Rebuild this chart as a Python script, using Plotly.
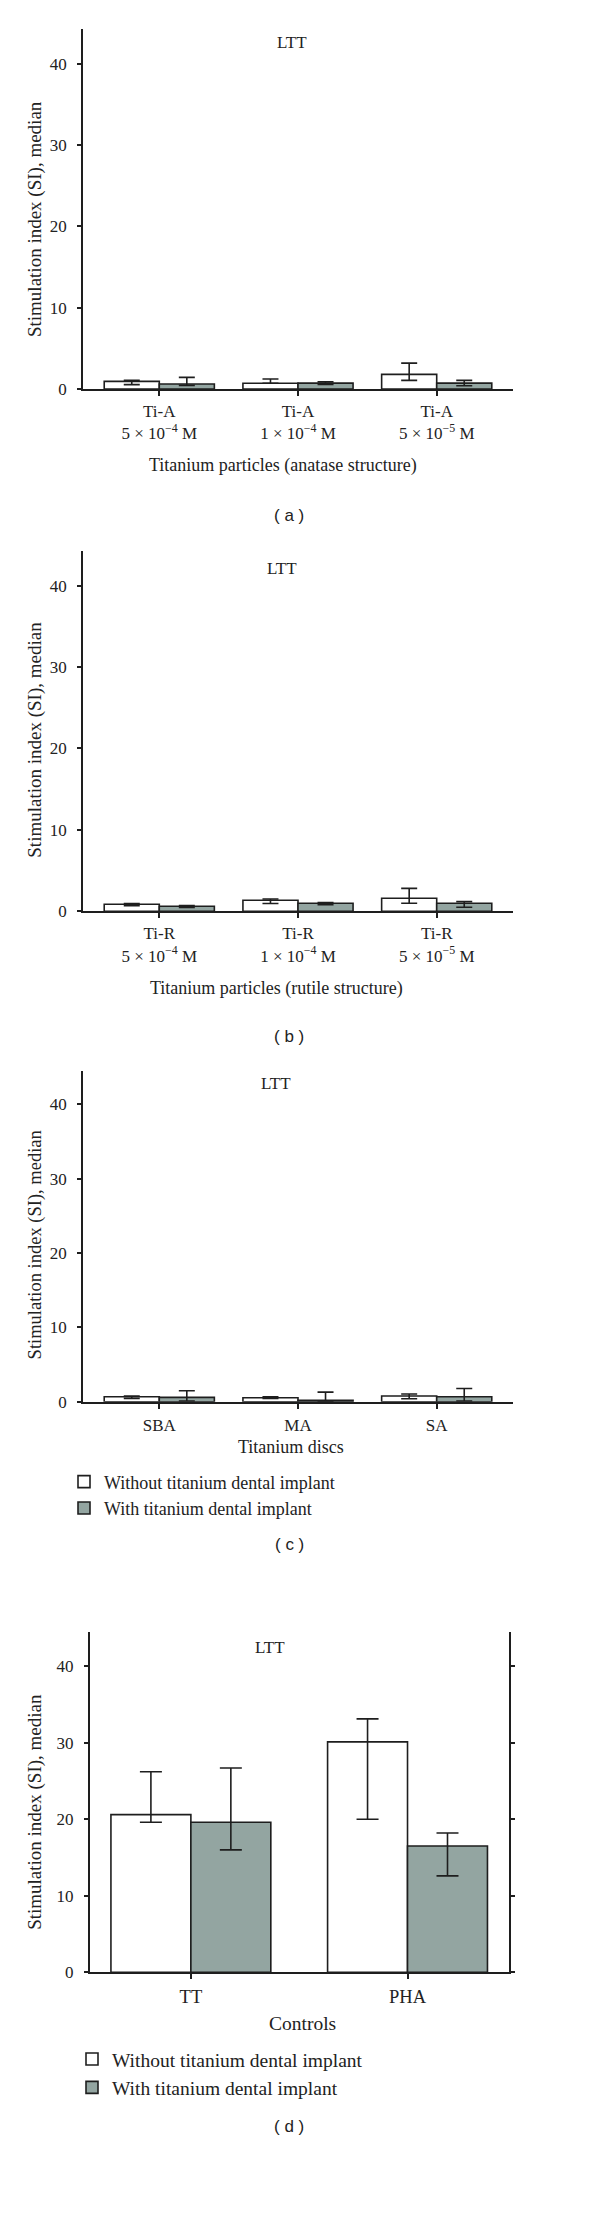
import plotly.graph_objects as go

W, H = 600, 2224

# ---------------- data ----------------
series_names = ["Without titanium dental implant", "With titanium dental implant"]

# (a) anatase particles
cats_a = ["Ti-A 5e-4", "Ti-A 1e-4", "Ti-A 5e-5"]
ticks_a = ["Ti-A<br>5 × 10<sup>−4</sup> M", "Ti-A<br>1 × 10<sup>−4</sup> M", "Ti-A<br>5 × 10<sup>−5</sup> M"]
without_a = [0.94, 0.70, 1.80]
without_a_hi = [1.06, 1.22, 3.18]
without_a_lo = [0.54, 0.70, 1.06]
with_a = [0.61, 0.72, 0.72]
with_a_hi = [1.43, 0.88, 1.06]
with_a_lo = [0.45, 0.55, 0.40]

# (b) rutile particles
cats_b = ["Ti-R 5e-4", "Ti-R 1e-4", "Ti-R 5e-5"]
ticks_b = ["Ti-R<br>5 × 10<sup>−4</sup> M", "Ti-R<br>1 × 10<sup>−4</sup> M", "Ti-R<br>5 × 10<sup>−5</sup> M"]
without_b = [0.86, 1.34, 1.59]
without_b_hi = [0.94, 1.51, 2.81]
without_b_lo = [0.69, 0.94, 0.98]
with_b = [0.61, 0.98, 0.98]
with_b_hi = [0.69, 1.06, 1.18]
with_b_lo = [0.45, 0.81, 0.49]

# (c) titanium discs
cats_c = ["SBA", "MA", "SA"]
ticks_c = ["SBA", "MA", "SA"]
without_c = [0.67, 0.54, 0.76]
without_c_hi = [0.76, 0.67, 1.03]
without_c_lo = [0.45, 0.45, 0.40]
with_c = [0.58, 0.18, 0.67]
with_c_hi = [1.47, 1.29, 1.78]
with_c_lo = [0.09, 0.00, 0.09]

# (d) controls
cats_d = ["TT", "PHA"]
ticks_d = ["TT", "PHA"]
without_d = [20.6, 30.1]
without_d_hi = [26.2, 33.1]
without_d_lo = [19.6, 20.0]
with_d = [19.6, 16.5]
with_d_hi = [26.7, 18.2]
with_d_lo = [16.0, 12.6]

y_ticks = [0, 10, 20, 30, 40]

# ---------------- style ----------------
SERIF = "Liberation Serif, Times New Roman, serif"
SANS = "Liberation Sans, Arial, sans-serif"
INK = "#1e1e1e"
WHITE = "#ffffff"
GREY = "#93a5a1"


def px_x(p):
    return p / W


def px_y(p):
    return 1 - p / H


panels = [
    dict(cats=cats_a, ticks=ticks_a, w=without_a, wh=without_a_hi, wl=without_a_lo,
         g=with_a, gh=with_a_hi, gl=with_a_lo,
         xdom=(75, 505), ydom=(21, 382.7), ytop=44.3, half=0.397, xr=(-0.55, 2.55),
         cap=8, xfs=17, yfs=17, mirror=False, legend=None, xso=1,
         xtitle="Titanium particles (anatase structure)", xt_pos=(275, 460), xt_fs=18,
         yt_pos=(27, 212), yt_fs=19, ltt=(284, 35), letter="( a )", let_pos=(281, 510)),
    dict(cats=cats_b, ticks=ticks_b, w=without_b, wh=without_b_hi, wl=without_b_lo,
         g=with_b, gh=with_b_hi, gl=with_b_lo,
         xdom=(75, 505), ydom=(545, 907.3), ytop=44.3, half=0.397, xr=(-0.55, 2.55),
         cap=8, xfs=17, yfs=17, mirror=False, legend=None, xso=1,
         xtitle="Titanium particles (rutile structure)", xt_pos=(268, 985), xt_fs=18,
         yt_pos=(27, 735), yt_fs=19, ltt=(274, 563), letter="( b )", let_pos=(281, 1033)),
    dict(cats=cats_c, ticks=ticks_c, w=without_c, wh=without_c_hi, wl=without_c_lo,
         g=with_c, gh=with_c_hi, gl=with_c_lo,
         xdom=(75, 505), ydom=(1068.3, 1400), ytop=44.4, half=0.397, xr=(-0.55, 2.55),
         cap=8, xfs=17, yfs=17, mirror=False, legend="legend", xso=2,
         xtitle="Titanium discs", xt_pos=(283, 1445), xt_fs=18,
         yt_pos=(27, 1243), yt_fs=18.5, ltt=(268, 1080), letter="( c )", let_pos=(281, 1543)),
    dict(cats=cats_d, ticks=ticks_d, w=without_d, wh=without_d_hi, wl=without_d_lo,
         g=with_d, gh=with_d_hi, gl=with_d_lo,
         xdom=(81.7, 500.7), ydom=(1631.7, 1973.3), ytop=44.4, half=0.369, xr=(-0.467, 1.467),
         cap=11, xfs=18.5, yfs=17, mirror=True, legend="legend2", xso=2,
         xtitle="Controls", xt_pos=(294, 2025), xt_fs=19.5,
         yt_pos=(27, 1812), yt_fs=19, ltt=(262, 1647), letter="( d )", let_pos=(281, 2128)),
]

fig = go.Figure()
annotations = []

for i, p in enumerate(panels, start=1):
    xa = "x" if i == 1 else f"x{i}"
    ya = "y" if i == 1 else f"y{i}"
    for name, vals, hi, lo, fill, off in [
        (series_names[0], p["w"], p["wh"], p["wl"], WHITE, -p["half"]),
        (series_names[1], p["g"], p["gh"], p["gl"], GREY, 0.0),
    ]:
        plus = [h - v for h, v in zip(hi, vals)]
        minus = [v - l for l, v in zip(lo, vals)]
        kw = dict(showlegend=p["legend"] is not None)
        if p["legend"] is not None:
            kw["legend"] = p["legend"]
        fig.add_trace(go.Bar(
            x=p["cats"], y=vals, name=name,
            width=p["half"], offset=off,
            marker=dict(color=fill, line=dict(color=INK, width=1.6)),
            error_y=dict(type="data", symmetric=False, array=plus, arrayminus=minus,
                         color=INK, thickness=1.6, width=p["cap"]),
            xaxis=xa, yaxis=ya, **kw,
        ))

    xkey = "xaxis" if i == 1 else f"xaxis{i}"
    ykey = "yaxis" if i == 1 else f"yaxis{i}"
    fig.update_layout({
        xkey: dict(
            domain=[px_x(p["xdom"][0]), px_x(p["xdom"][1])],
            anchor=ya, type="category", range=list(p["xr"]),
            tickvals=p["cats"], ticktext=p["ticks"],
            showline=True, linecolor=INK, linewidth=1.6,
            ticks="outside", ticklen=5, tickwidth=1.6, tickcolor=INK,
            ticklabelstandoff=p["xso"],
            showgrid=False, zeroline=False,
            tickfont=dict(family=SERIF, size=p["xfs"], color="#222"),
        ),
        ykey: dict(
            domain=[px_y(p["ydom"][1]), px_y(p["ydom"][0])],
            anchor=xa, range=[0, p["ytop"]], tickvals=y_ticks,
            showline=True, linecolor=INK, linewidth=1.6,
            mirror="ticks" if p["mirror"] else False,
            ticks="outside", ticklen=4, tickwidth=1.6, tickcolor=INK,
            ticklabelstandoff=7,
            showgrid=False, zeroline=False,
            tickfont=dict(family=SERIF, size=p["yfs"], color="#222"),
        ),
    })

    annotations += [
        dict(text=p["xtitle"], x=px_x(p["xt_pos"][0]), y=px_y(p["xt_pos"][1]),
             xref="paper", yref="paper", showarrow=False, xanchor="center", yanchor="middle",
             font=dict(family=SERIF, size=p["xt_fs"], color="#222")),
        dict(text="Stimulation index (SI), median", x=px_x(p["yt_pos"][0]), y=px_y(p["yt_pos"][1]),
             xref="paper", yref="paper", showarrow=False, textangle=-90,
             xanchor="center", yanchor="middle",
             font=dict(family=SERIF, size=p["yt_fs"], color="#222")),
        dict(text="LTT", x=px_x(p["ltt"][0]), y=px_y(p["ltt"][1]),
             xref="paper", yref="paper", showarrow=False, xanchor="center", yanchor="middle",
             font=dict(family=SERIF, size=17, color="#222")),
        dict(text=p["letter"], x=px_x(p["let_pos"][0]), y=px_y(p["let_pos"][1]),
             xref="paper", yref="paper", showarrow=False, xanchor="center", yanchor="middle",
             font=dict(family=SANS, size=17, color="#222")),
    ]

fig.update_layout(
    width=W, height=H,
    margin=dict(l=0, r=0, t=0, b=0),
    paper_bgcolor="white", plot_bgcolor="white",
    annotations=annotations,
    legend=dict(x=px_x(56), y=px_y(1462), xanchor="left", yanchor="top",
                font=dict(family=SERIF, size=18, color="#222"),
                bgcolor="rgba(0,0,0,0)", traceorder="normal", tracegroupgap=0),
    legend2=dict(x=px_x(64), y=px_y(2041), xanchor="left", yanchor="top",
                 font=dict(family=SERIF, size=19.5, color="#222"),
                 bgcolor="rgba(0,0,0,0)", traceorder="normal", tracegroupgap=0),
    showlegend=True,
)

fig.write_html("out.html")
